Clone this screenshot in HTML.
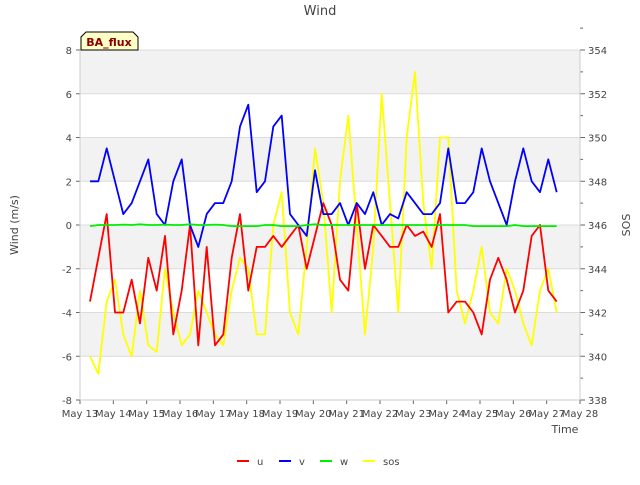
<!DOCTYPE html>
<html><head><meta charset="utf-8"><style>
body{margin:0;background:#fff;font-family:"Liberation Sans","DejaVu Sans",sans-serif;}
svg text{font-family:"DejaVu Sans","Liberation Sans",sans-serif;}
</style></head><body>
<svg id="chart" width="640" height="480">
<text x="320" y="15" text-anchor="middle" font-size="13" fill="#444">Wind</text>
<g id="bands"></g><g id="axes"></g><g id="series"></g>
<g>
<path d="M81,50 L81,37 L86,32 L133,32 L138,37 L138,50 Z" fill="#ffffc8" stroke="#000" stroke-width="1"/>
<text x="109" y="46" text-anchor="middle" font-size="11" font-weight="bold" fill="#8b0000">BA_flux</text>
</g>
<text transform="translate(18,225) rotate(-90)" text-anchor="middle" font-size="11" fill="#444">Wind (m/s)</text>
<text transform="translate(630,225) rotate(-90)" text-anchor="middle" font-size="11" fill="#444">SOS</text>
<text x="565" y="433" text-anchor="middle" font-size="11" fill="#444">Time</text>
<g id="legend"></g>
</svg>
<script>
const xTicks=["May 13","May 14","May 15","May 16","May 17","May 18","May 19","May 20","May 21","May 22","May 23","May 24","May 25","May 26","May 27","May 28"];
const yTicks=[-8,-6,-4,-2,0,2,4,6,8];
const y2Ticks=[338,340,342,344,346,348,350,352,354];
const tStart=13.3, tStep=0.25;
const uVals=[-3.5,-1.5,0.5,-4,-4,-2.5,-4.5,-1.5,-3,-0.5,-5,-3,0,-5.5,-1,-5.5,-5,-1.5,0.5,-3,-1,-1,-0.5,-1,-0.5,0,-2,-0.5,1,0,-2.5,-3,1,-2,0,-0.5,-1,-1,0,-0.5,-0.3,-1,0.5,-4,-3.5,-3.5,-4,-5,-2.5,-1.5,-2.5,-4,-3,-0.5,0,-3,-3.5];
const vVals=[2,2,3.5,2,0.5,1,2,3,0.5,0,2,3,0,-1,0.5,1,1,2,4.5,5.5,1.5,2,4.5,5,0.5,0,-0.5,2.5,0.5,0.5,1,0,1,0.5,1.5,0,0.5,0.3,1.5,1,0.5,0.5,1,3.5,1,1,1.5,3.5,2,1,0,2,3.5,2,1.5,3,1.5];
const wVals=[-0.05,0,0,0,0.02,0,0.03,0,0,0.02,0,0,0.03,0,0,0.02,0,-0.05,-0.05,-0.05,-0.05,0,0,-0.05,-0.05,-0.05,0,0.03,0,0,0,0,0,0,0,0,0,0,0,0,0,0,0,0,0,0,-0.05,-0.05,-0.05,-0.05,-0.05,0,-0.05,-0.05,-0.05,-0.05,-0.05];
const sosVals=[340,339.2,342.5,343.5,341,340,343,340.5,340.2,344,342,340.5,341,343,342,341,340.5,343,344.5,344,341,341,346,347.5,342,341,345,349.5,347,342,348,351,346,341,345,352,347,342,350,353,347,344,350,350,343,341.5,343,345,342,341.5,344,343,341.5,340.5,343,344,342];
const X0=80,X1=580,Y0=400,Y1=50;
const xs=d=>X0+(d-13)*(X1-X0)/15;
const ys=v=>Y0-(v+8)*(Y0-Y1)/16;
const ys2=v=>Y0-(v-338)*(Y0-Y1)/16;
const NS="http://www.w3.org/2000/svg";
function mk(t,a,p){const e=document.createElementNS(NS,t);for(const k in a)e.setAttribute(k,a[k]);p.appendChild(e);return e;}
const bands=document.getElementById('bands'),axes=document.getElementById('axes'),ser=document.getElementById('series'),leg=document.getElementById('legend');
mk('rect',{x:X0,y:Y1,width:X1-X0,height:Y0-Y1,fill:'#fff'},bands);
for(let i=0;i<yTicks.length-1;i++){if(i%2==1){const r=mk('rect',{x:X0,y:ys(yTicks[i+1]),width:X1-X0,height:ys(yTicks[i])-ys(yTicks[i+1]),fill:'#f2f2f2'},bands);

}}
yTicks.forEach(v=>{mk('line',{x1:X0,x2:X1,y1:ys(v),y2:ys(v),stroke:'#dcdcdc','stroke-width':1},bands);
mk('line',{x1:X0-4,x2:X0,y1:ys(v),y2:ys(v),stroke:'#666'},axes);
const t=mk('text',{x:X0-8,y:ys(v)+4,'text-anchor':'end','font-size':10,fill:'#444'},axes);t.textContent=v;

});
y2Ticks.forEach(v=>{mk('line',{x1:X1,x2:X1+5,y1:ys2(v),y2:ys2(v),stroke:'#666'},axes);
mk('line',{x1:X1,x2:X1+3,y1:ys2(v+1),y2:ys2(v+1),stroke:'#666'},axes);
const t=mk('text',{x:X1+8,y:ys2(v)+4,'font-size':10,fill:'#444'},axes);t.textContent=v;

});
xTicks.forEach((s,i)=>{mk('line',{x1:xs(13+i),x2:xs(13+i),y1:Y0,y2:Y0+4,stroke:'#666'},axes);
const t=mk('text',{x:xs(13+i),y:Y0+17,'text-anchor':'middle','font-size':10,fill:'#444'},axes);t.textContent=s;

});
mk('line',{x1:X0,x2:X0,y1:Y1,y2:Y0,stroke:'#ccc'},axes);
mk('line',{x1:X1,x2:X1,y1:Y1,y2:Y0,stroke:'#ccc'},axes);
mk('line',{x1:X0,x2:X1,y1:Y0,y2:Y0,stroke:'#ccc'},axes);
function line(vals,sc,col,name){const p=vals.map((v,i)=>(i?'L':'M')+xs(tStart+i*tStep).toFixed(1)+','+sc(v).toFixed(1)).join('');
const e=mk('path',{d:p,fill:'none',stroke:col,'stroke-width':1.8,'stroke-linejoin':'round'},ser);

}
line(sosVals,ys2,'#ffff00','sos-line');
line(uVals,ys,'#ff0000','u-line');
line(vVals,ys,'#0000ff','v-line');
line(wVals,ys,'#00ee00','w-line');
[['u','#ff0000',237],['v','#0000ff',279],['w','#00ee00',320],['sos','#ffff00',363]].forEach(([n,c,x])=>{
const g=mk('g',{},leg);


mk('line',{x1:x,x2:x+12,y1:461,y2:461,stroke:c,'stroke-width':2},g);
const t=mk('text',{x:x+20,y:465,'font-size':10,fill:'#444'},g);t.textContent=n;});
</script>
</body></html>
